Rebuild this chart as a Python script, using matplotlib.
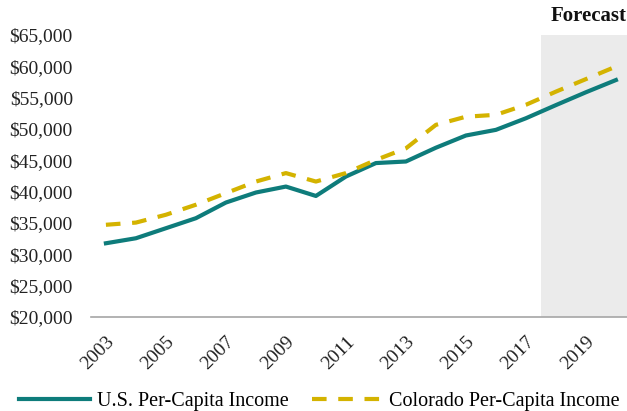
import matplotlib
matplotlib.use("Agg")
import matplotlib.pyplot as plt
import matplotlib.ticker as mticker

# data
years = list(range(2003, 2021))
us_income = [31750, 32550, 34150, 35750, 38250, 39850, 40800, 39300, 42400,
             44550, 44800, 47000, 48950, 49850, 51700, 53800, 55850, 57800]
co_income = [34700, 35050, 36300, 37900, 39750, 41600, 42950, 41600, 42950,
             45050, 46900, 50650, 51950, 52250, 53850, 55950, 57950, 59950]
tick_years = list(range(2003, 2021, 2))
forecast_start = 2017.5

TEAL = "#0E7C7B"
GOLD = "#D4B300"

plt.rcParams["font.family"] = ["Liberation Serif", "DejaVu Serif"]

fig = plt.figure(figsize=(6.27, 4.11), dpi=100)
ax = fig.add_axes([0.145, 0.229, 0.855, 0.686])

ax.axvspan(forecast_start, 2020.5, color="#EBEBEB", zorder=0, lw=0)
ax.plot(years, us_income, color=TEAL, lw=3, label="U.S. Per-Capita Income", zorder=3)
ax.plot(years, co_income, color=GOLD, lw=3, ls=(0, (3.5, 2.8)),
        label="Colorado Per-Capita Income", zorder=3)

ax.set_xlim(2002.5, 2020.37)
ax.set_ylim(20000, 65000)
ax.set_yticks(range(20000, 65001, 5000))
ax.yaxis.set_major_formatter(mticker.FuncFormatter(lambda v, _: f"${int(v):,}"))
ax.set_xticks(tick_years)
ax.set_xticklabels([str(y) for y in tick_years], rotation=45, ha="right",
                   rotation_mode="anchor")
ax.tick_params(axis="both", length=0, labelsize=14, colors="#222222")
ax.tick_params(axis="x", pad=12)
ax.tick_params(axis="y", pad=13)
for s in ["top", "right", "left"]:
    ax.spines[s].set_visible(False)
ax.spines["bottom"].set_color("#A6A6A6")
ax.spines["bottom"].set_linewidth(1.2)

fig.text(0.999, 0.985, "Forecast", ha="right", va="top", fontsize=15,
         fontweight="bold", color="#111111")

fig.legend(loc="lower center", bbox_to_anchor=(0.51, -0.045), ncol=2,
           frameon=False, fontsize=14.5, handlelength=3.5, columnspacing=1.15,
           handletextpad=0.35)

fig.savefig("out.png", dpi=100)
